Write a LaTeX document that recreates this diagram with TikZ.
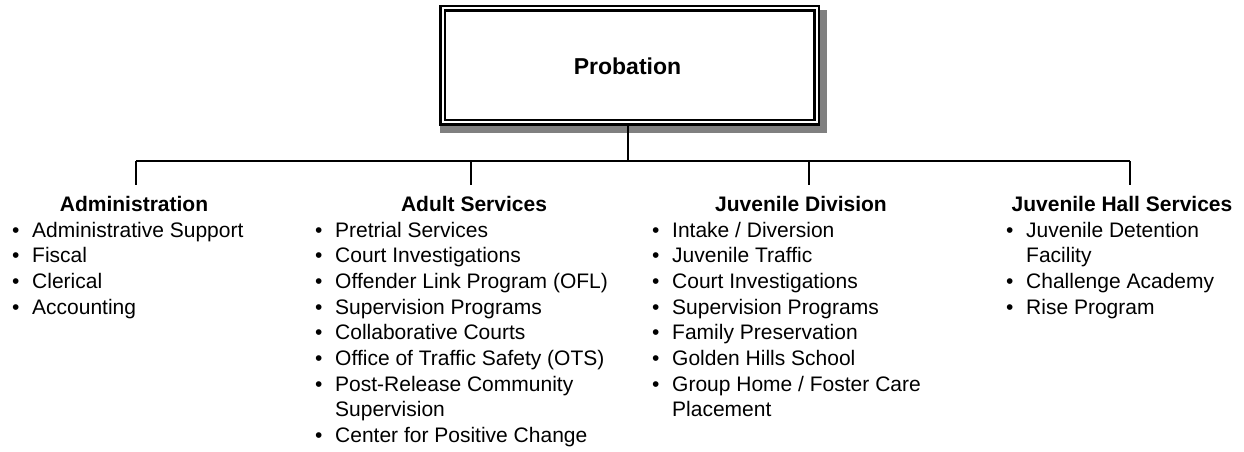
\documentclass[tikz,border=0pt]{standalone}
\usepackage{fontspec}
\setmainfont{Liberation Sans}

% one bulleted line of a column; \contline continues an item on a new line
\newcommand{\bulletline}[1]{\makebox[20pt][l]{\textbullet}#1}
\newcommand{\contline}[1]{\hspace*{20pt}#1}

\begin{document}
\begin{tikzpicture}[x=1pt,y=-1pt,
  head/.style={font=\fontsize{21}{25}\selectfont\bfseries, anchor=base, inner sep=0pt},
  entry/.style={font=\fontsize{21}{25}\selectfont, anchor=base west, inner sep=0pt},
  link/.style={line width=1.8pt},
  topbox/.style={draw=black, fill=white, line width=2.6pt, double=white,
    double distance=2pt, minimum width=374pt, minimum height=114pt, inner sep=0pt}]
\useasboundingbox (0,0) rectangle (1244,451);

% shadow band under the top box
\fill[gray] (440,10) rectangle (827,133);
\node[topbox] (top) at (629.5,65.4) {};
\node[anchor=base, inner sep=0pt, font=\fontsize{23}{27}\selectfont\bfseries]
  (title) at (627.5,74) {Probation};

% bus line and drops
\coordinate (mid) at (628,161);
\coordinate (d1) at (136,161);
\coordinate (d2) at (471,161);
\coordinate (d3) at (809,161);
\coordinate (d4) at (1130,161);
\coordinate (e1) at (136,185);
\coordinate (e2) at (471,185);
\coordinate (e3) at (809,185);
\coordinate (e4) at (1130,185);
\draw[link] (top.south -| mid) -- (mid);
\draw[link] (d1) -- (d4);
\foreach \i in {1,...,4} \draw[link] (d\i) -- (e\i);

% headings
\node[head] (h1) at (134,211) {Administration};
\node[head] (h2) at (474,211) {Adult Services};
\node[head] (h3) at (801,211) {Juvenile Division};
\node[head] (h4) at (1122,211) {Juvenile Hall Services};

% column lists
\foreach \t [count=\k] in {
  \bulletline{Administrative Support},
  \bulletline{Fiscal},
  \bulletline{Clerical},
  \bulletline{Accounting}}
  \node[entry] (a\k) at (12,{237+25.7*(\k-1)}) {\t};

\foreach \t [count=\k] in {
  \bulletline{Pretrial Services},
  \bulletline{Court Investigations},
  \bulletline{Offender Link Program (OFL)},
  \bulletline{Supervision Programs},
  \bulletline{Collaborative Courts},
  \bulletline{Office of Traffic Safety (OTS)},
  \bulletline{Post-Release Community},
  \contline{Supervision},
  \bulletline{Center for Positive Change}}
  \node[entry] (b\k) at (315,{237+25.7*(\k-1)}) {\t};

\foreach \t [count=\k] in {
  \bulletline{Intake / Diversion},
  \bulletline{Juvenile Traffic},
  \bulletline{Court Investigations},
  \bulletline{Supervision Programs},
  \bulletline{Family Preservation},
  \bulletline{Golden Hills School},
  \bulletline{Group Home / Foster Care},
  \contline{Placement}}
  \node[entry] (c\k) at (652,{237+25.7*(\k-1)}) {\t};

\foreach \t [count=\k] in {
  \bulletline{Juvenile Detention},
  \contline{Facility},
  \bulletline{Challenge Academy},
  \bulletline{Rise Program}}
  \node[entry] (j\k) at (1006,{237+25.7*(\k-1)}) {\t};
\end{tikzpicture}
\end{document}
